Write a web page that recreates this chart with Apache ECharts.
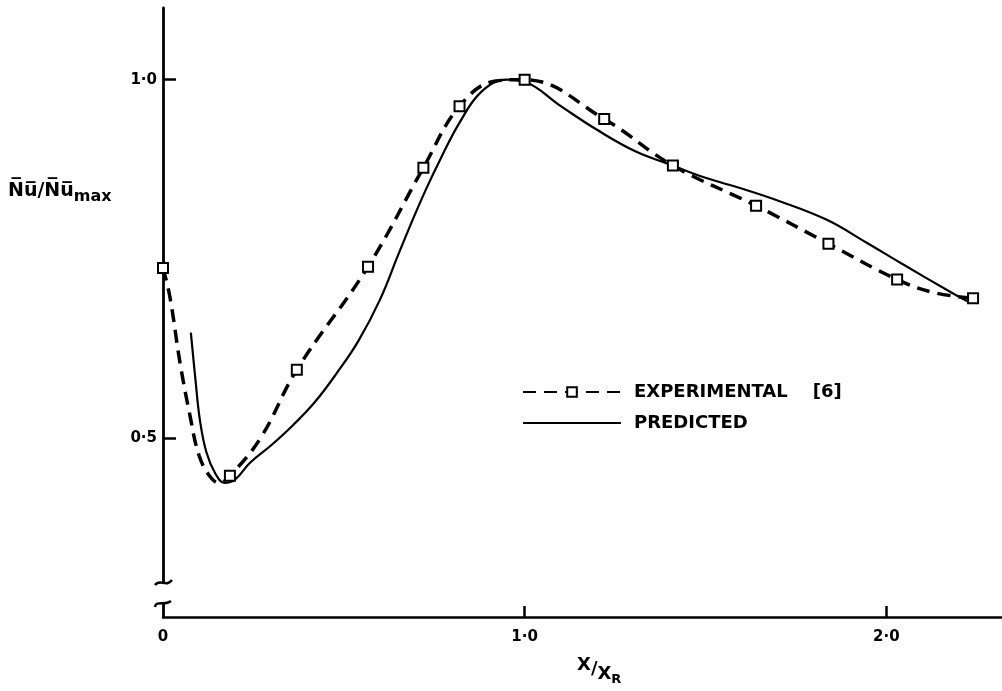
<!DOCTYPE html>
<html>
<head>
<meta charset="utf-8">
<title>Nu / Nu max</title>
<style>
    html, body { margin: 0; padding: 0; background: #fff; }
    #main { width: 1002px; height: 691px; }
</style>
</head>
<body>
<div id="main"></div>
<script src="https://cdn.jsdelivr.net/npm/echarts@6.0.0/dist/echarts.min.js"></script>
<script>
// experimental points [6] (squares)
var expPoints = [
    [0, 0.737], [0.185, 0.447], [0.37, 0.595], [0.567, 0.739], [0.72, 0.877],
    [0.82, 0.963], [1.0, 1.0], [1.22, 0.945], [1.41, 0.88], [1.64, 0.824],
    [1.84, 0.771], [2.03, 0.721], [2.24, 0.695]
];
// dashed curve drawn through the experimental points
var expCurve = [
    [0, 0.737], [0.019, 0.697], [0.047, 0.605], [0.075, 0.53], [0.1, 0.475],
    [0.13, 0.446], [0.155, 0.437], [0.185, 0.447], [0.27, 0.5], [0.37, 0.595],
    [0.567, 0.739], [0.72, 0.877], [0.82, 0.963], [0.92, 0.998], [1.0, 1.0],
    [1.22, 0.945], [1.41, 0.88], [1.64, 0.824], [1.84, 0.771], [2.03, 0.721],
    [2.13, 0.703], [2.24, 0.695]
];
// predicted curve (solid)
var predCurve = [
    [0.077, 0.647], [0.09, 0.58], [0.102, 0.525], [0.12, 0.48], [0.145, 0.45],
    [0.17, 0.437], [0.2, 0.442], [0.24, 0.465], [0.3, 0.49], [0.36, 0.518],
    [0.42, 0.55], [0.48, 0.59], [0.54, 0.635], [0.6, 0.693], [0.65, 0.755],
    [0.69, 0.804], [0.73, 0.85], [0.766, 0.888], [0.82, 0.94], [0.88, 0.983],
    [0.95, 1.0], [1.0, 0.997], [1.1, 0.963], [1.2, 0.93], [1.306, 0.9],
    [1.41, 0.88], [1.5, 0.863], [1.6, 0.848], [1.707, 0.83], [1.837, 0.804],
    [1.947, 0.772], [2.04, 0.744], [2.18, 0.703], [2.227, 0.69]
];
var xTicks = [1, 2];
var xLabels = [0, 1, 2];
var yTicks = [0.5, 1.0];

function fmt(v) {
    if (v === 0) return '0';
    return v.toFixed(1).replace('.', '\u00b7');
}

var font = 'DejaVu Sans';
var sq = {
    color: '#fff',
    borderColor: '#000',
    borderWidth: 2,
    opacity: 1
};

var myChart = echarts.init(document.getElementById('main'));

option = {
    backgroundColor: '#fff',
    animation: false,
    grid: { left: 163, right: 0, top: 8, bottom: 74 },
    title: [{
        left: 3,
        top: 172,
        text: '{a|N\u0305u\u0305/N\u0305u\u0305}{b|max}',
        textStyle: {
            rich: {
                a: { fontFamily: font, fontWeight: 'bold', fontSize: 19, color: '#000' },
                b: { fontFamily: font, fontWeight: 'bold', fontSize: 16, color: '#000', padding: [12, 0, 0, 0] }
            }
        }
    }, {
        left: 572,
        top: 648,
        text: '{a|X}{s|/}{c|X}{d|R}',
        textStyle: {
            rich: {
                a: { fontFamily: font, fontWeight: 'bold', fontSize: 18, color: '#000', padding: [0, 0, 8, 0] },
                s: { fontFamily: font, fontWeight: 'bold', fontSize: 18, color: '#000' },
                c: { fontFamily: font, fontWeight: 'bold', fontSize: 18, color: '#000', padding: [10, 0, 0, 0] },
                d: { fontFamily: font, fontWeight: 'bold', fontSize: 13, color: '#000', padding: [20, 0, 0, 0] }
            }
        }
    }],
    legend: {
        orient: 'vertical',
        left: 517,
        top: 378,
        itemWidth: 98,
        itemHeight: 12,
        itemGap: 13,
        data: [
            { name: 'EXPERIMENTAL    [6]' },
            { name: 'PREDICTED', itemStyle: { opacity: 0 } }
        ],
        textStyle: {
            fontFamily: font,
            fontWeight: 'bold',
            fontSize: 18,
            color: '#000',
            padding: [0, 0, 0, 8]
        }
    },
    xAxis: {
        type: 'value',
        min: 0,
        max: 2.32,
        axisLine: { lineStyle: { color: '#000', width: 2.5 } },
        axisTick: {
            customValues: xTicks,
            inside: true,
            length: 11,
            lineStyle: { color: '#000', width: 2.5 }
        },
        axisLabel: {
            customValues: xLabels,
            formatter: fmt,
            margin: 13,
            fontFamily: font,
            fontWeight: 'bold',
            fontSize: 15,
            color: '#000'
        },
        splitLine: { show: false }
    },
    yAxis: {
        type: 'value',
        min: 0.25,
        max: 1.1,
        axisLine: { show: true, lineStyle: { color: '#000', width: 2.8 } },
        axisTick: {
            show: true,
            customValues: yTicks,
            inside: true,
            length: 13,
            lineStyle: { color: '#000', width: 2.5 }
        },
        axisLabel: {
            customValues: yTicks,
            formatter: fmt,
            margin: 6,
            fontFamily: font,
            fontWeight: 'bold',
            fontSize: 15,
            color: '#000'
        },
        splitLine: { show: false }
    },
    graphic: [
        { type: 'rect', z: 100, shape: { x: 150, y: 583, width: 26, height: 19 }, style: { fill: '#fff' } },
        {
            type: 'bezierCurve', z: 101,
            shape: { x1: 155, y1: 585, cpx1: 160, cpy1: 578, cpx2: 166, cpy2: 588, x2: 172, y2: 580 },
            style: { stroke: '#000', lineWidth: 2.5, fill: null }
        },
        {
            type: 'bezierCurve', z: 101,
            shape: { x1: 155, y1: 607, cpx1: 156, cpy1: 600, cpx2: 165, cpy2: 606, x2: 171, y2: 601 },
            style: { stroke: '#000', lineWidth: 2.5, fill: null }
        }
    ],
    series: [{
        name: 'PREDICTED',
        type: 'line',
        data: predCurve,
        smooth: 0.4,
        symbol: 'none',
        lineStyle: { color: '#000', width: 2.2 },
        itemStyle: { color: '#000' },
        z: 3
    }, {
        name: 'EXPERIMENTAL    [6]',
        type: 'line',
        data: expCurve,
        smooth: 0.4,
        showSymbol: false,
        symbol: 'rect',
        symbolSize: 9,
        itemStyle: sq,
        lineStyle: { color: '#000', width: 3.5, type: [13, 8] },
        z: 4
    }, {
        type: 'scatter',
        data: expPoints,
        symbol: 'rect',
        symbolSize: 10,
        itemStyle: sq,
        z: 5
    }]
};
myChart.setOption(option);
</script>
</body>
</html>
